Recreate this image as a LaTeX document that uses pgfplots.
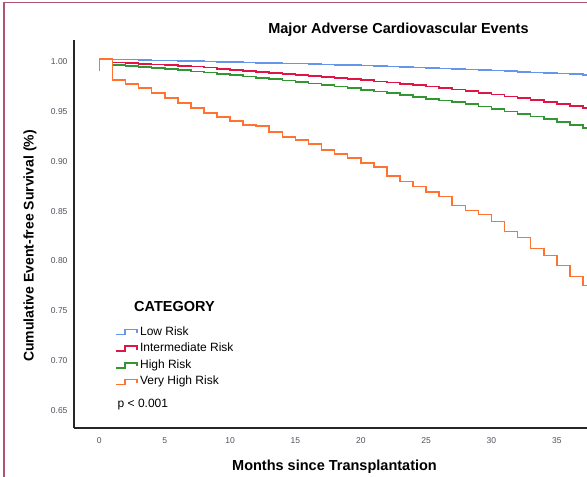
\documentclass[border=0pt]{standalone}
\usepackage{fontspec}
\setmainfont{Liberation Sans}
\usepackage{pgfplots}
\pgfplotsset{compat=1.18}
\usepackage{pgfplotstable}

\definecolor{cBlue}{RGB}{100,150,235}
\definecolor{cRed}{RGB}{225,20,70}
\definecolor{cGreen}{RGB}{50,150,50}
\definecolor{cOrange}{RGB}{255,115,50}
\definecolor{cBorder}{RGB}{175,85,115}
\definecolor{cTick}{RGB}{80,80,92}

\pgfplotstableread{
m s
0 1.0000
1 0.9998
2 0.9995
3 0.9992
4 0.9988
5 0.9985
6 0.9982
7 0.9979
8 0.9976
9 0.9973
10 0.9970
11 0.9967
12 0.9964
13 0.9961
14 0.9958
15 0.9955
16 0.9951
17 0.9947
18 0.9943
19 0.9939
20 0.9935
21 0.9931
22 0.9927
23 0.9922
24 0.9917
25 0.9912
26 0.9907
27 0.9902
28 0.9896
29 0.9890
30 0.9884
31 0.9878
32 0.9872
33 0.9866
34 0.9860
35 0.9854
36 0.9848
37 0.9842
37.4 0.9842
}\lowrisk

\pgfplotstableread{
m s
0 1.000
1 0.9965
2 0.996
3 0.995
4 0.9945
5 0.994
6 0.993
7 0.9925
8 0.9915
9 0.990
10 0.989
11 0.988
12 0.987
13 0.986
14 0.985
15 0.984
16 0.983
17 0.982
18 0.981
19 0.980
20 0.979
21 0.9775
22 0.9765
23 0.975
24 0.974
25 0.9725
26 0.971
27 0.9695
28 0.968
29 0.966
30 0.9645
31 0.9625
32 0.961
33 0.959
34 0.957
35 0.955
36 0.953
37 0.951
37.4 0.951
}\intrisk

\pgfplotstableread{
m s
0 1.000
1 0.994
2 0.993
3 0.992
4 0.991
5 0.990
6 0.989
7 0.9875
8 0.9865
9 0.985
10 0.984
11 0.9825
12 0.981
13 0.980
14 0.9785
15 0.977
16 0.9755
17 0.974
18 0.9725
19 0.971
20 0.969
21 0.9675
22 0.966
23 0.964
24 0.962
25 0.960
26 0.9585
27 0.957
28 0.955
29 0.9525
30 0.950
31 0.9475
32 0.945
33 0.9425
34 0.940
35 0.937
36 0.934
37 0.931
37.4 0.931
}\highrisk

\pgfplotstableread{
m s
0 0.988
0 1.000
1 0.979
2 0.975
3 0.971
4 0.966
5 0.961
6 0.956
7 0.951
8 0.946
9 0.942
10 0.938
11 0.934
12 0.933
13 0.927
14 0.922
15 0.919
16 0.915
17 0.909
18 0.905
19 0.901
20 0.896
21 0.892
22 0.883
23 0.877
24 0.872
25 0.8665
26 0.862
27 0.853
28 0.848
29 0.844
30 0.837
31 0.827
32 0.821
33 0.810
34 0.803
35 0.793
36 0.782
37 0.773
37.4 0.773
}\veryhighrisk

\begin{document}
\begin{tikzpicture}[x=1pt,y=1pt]
\path[use as bounding box] (0,0) rectangle (587,477);
\draw[color=cBorder, line width=1.5pt] (4,0) -- (4,474.3) -- (587,474.3);
\begin{axis}[
  at={(74pt,49pt)}, anchor=south west,
  scale only axis, width=513pt, height=388pt,
  xmin=-1.94, xmax=37.31, ymin=0.6298, ymax=1.0192,
  axis lines=left, axis line style={-, line width=1.3pt, black!85},
  xtick={0,5,...,35},
  ytick={0.65,0.70,0.75,0.80,0.85,0.90,0.95,1.00},
  major tick length=0pt,
  /pgf/number format/assume math mode=true,
  ticklabel style={font=\fontsize{8.5}{10}\selectfont, text=cTick},
  yticklabel style={/pgf/number format/fixed, /pgf/number format/fixed zerofill, /pgf/number format/precision=2},
  yticklabel style={xshift=-3pt, yshift=-2.5pt},
  xticklabel style={anchor=center, yshift=-13pt},
  clip=true,
  legend cell align=left,
  legend style={at={(0.0799,0.269)}, anchor=north west, draw=none, fill=none,
    inner sep=0pt, row sep=0pt,
    font=\fontsize{12}{14}\selectfont,
    nodes={text height=9pt, text depth=3pt, inner sep=2.3pt}},
  legend image code/.code={\draw[#1] (0pt,-2.5pt) -- (9pt,-2.5pt) -- (9pt,2.5pt) -- (21pt,2.5pt) -- (21pt,-1pt);},
]
\addplot[const plot, color=cBlue, line width=1.6pt] table[x=m,y=s] {\lowrisk};
\addlegendentry{Low Risk}
\addplot[const plot, color=cRed, line width=1.6pt] table[x=m,y=s] {\intrisk};
\addlegendentry{Intermediate Risk}
\addplot[const plot, color=cGreen, line width=1.6pt] table[x=m,y=s] {\highrisk};
\addlegendentry{High Risk}
\addplot[const plot, color=cOrange, line width=1.6pt] table[x=m,y=s] {\veryhighrisk};
\addlegendentry{Very High Risk}
\end{axis}
\node[font=\bfseries\fontsize{14.5}{17}\selectfont] at (398.5,447) {Major Adverse Cardiovascular Events};
\node[rotate=90, font=\bfseries\fontsize{14}{16}\selectfont] at (30,231) {Cumulative Event-free Survival (\%)};
\node[font=\bfseries\fontsize{14.5}{17}\selectfont] at (334.5,10) {Months since Transplantation};
\node[font=\bfseries\fontsize{14.5}{17}\selectfont] at (174.5,170) {CATEGORY};
\node[anchor=west, inner sep=0pt, font=\fontsize{12}{14}\selectfont] at (117.5,72) {p < 0.001};
\end{tikzpicture}
\end{document}
